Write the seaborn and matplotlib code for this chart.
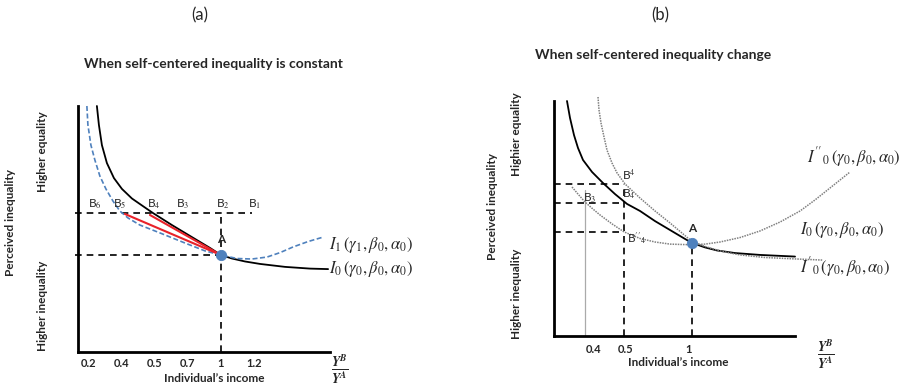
import matplotlib
matplotlib.use("Agg")
import matplotlib.pyplot as plt
import seaborn as sns

# ---------------- Panel (a): x = equally spaced income slots, y = perceived equality index (0..100)
a_tick_pos = [0, 1, 2, 3, 4, 5]
a_tick_labels = ["0.2", "0.4", "0.5", "0.7", "1", "1.2"]
a_I0_x = [0.242, 0.303, 0.394, 0.545, 0.758, 1.0, 1.303, 1.636, 1.939, 2.515, 3.121, 3.667,
          4.0, 4.333, 4.727, 5.182, 5.939, 6.697, 7.242]
a_I0_y = [100.0, 92.3, 84.1, 76.8, 70.7, 66.3, 62.4, 59.3, 56.5, 51.6, 46.7, 42.3,
          39.4, 38.0, 36.8, 35.8, 34.6, 33.9, 33.7]
a_I1_x = [-0.061, -0.030, 0.061, 0.182, 0.333, 0.515, 0.727, 0.939, 1.182, 1.545, 2.152,
          2.909, 3.515, 4.0, 4.485, 4.939, 5.394, 5.788, 6.182, 6.636, 7.091]
a_I1_y = [100.0, 92.3, 84.1, 78.0, 71.5, 66.3, 61.4, 57.3, 54.5, 51.6, 48.4,
          44.3, 41.1, 39.4, 38.0, 37.8, 38.6, 40.4, 42.7, 44.9, 46.7]
a_A = (4.0, 39.4)
a_B_level = 56.5
a_B_labels = ["B$_6$", "B$_5$", "B$_4$", "B$_3$", "B$_2$", "B$_1$"]
a_B_x = [0.18, 0.94, 1.97, 2.85, 4.06, 5.0]
a_red_start_x = [1.091, 1.848]
a_red_start_y = [56.1, 55.7]

# ---------------- Panel (b): x = schematic income position, y = perceived equality index (0..100)
b_tick_pos = [1.25, 2.25, 4.22]
b_tick_labels = ["0.4", "0.5", "1"]
b_I0_x = [0.406, 0.5, 0.625, 0.75, 0.906, 1.188, 1.531, 1.906, 2.281, 2.688, 3.156, 3.625,
          4.094, 4.313, 4.719, 5.094, 5.656, 6.438, 7.531]
b_I0_y = [100.0, 92.8, 85.5, 80.0, 74.9, 69.8, 65.1, 60.4, 56.2, 53.2, 48.9, 45.1,
          41.3, 39.6, 37.7, 36.4, 35.3, 34.5, 33.8]
b_Isteep_x = [1.375, 1.406, 1.469, 1.563, 1.656, 1.813, 1.969, 2.219, 2.688, 3.156, 3.625,
              4.0, 4.313, 4.719, 5.188, 5.813, 6.594, 7.531, 8.406]
b_Isteep_y = [101.7, 96.2, 90.6, 84.7, 79.1, 73.6, 69.4, 64.7, 58.7, 53.2, 48.1,
              43.8, 40.2, 38.1, 36.2, 34.5, 33.4, 32.8, 32.3]
b_Iu_x = [0.563, 0.75, 0.969, 1.219, 1.438, 1.813, 2.188, 2.688, 3.156, 3.625, 4.094, 4.344,
          4.719, 5.188, 5.813, 6.438, 7.063, 7.688, 8.156, 8.625, 8.938, 9.25]
b_Iu_y = [63.4, 60.4, 57.0, 54.0, 51.5, 47.7, 44.3, 41.5, 40.0, 39.1, 38.9, 38.9,
          39.1, 40.0, 41.9, 44.7, 48.5, 53.2, 57.9, 63.0, 66.4, 69.8]
b_A = (4.313, 39.6)
b_levels = [64.7, 56.6, 44.3]
b_x05 = 2.19
b_x04 = 0.969

sns.set_theme(style="white")
plt.rcParams['font.family'] = ['Lato', 'DejaVu Sans']
plt.rcParams['mathtext.fontset'] = 'stix'

W, H = 900, 388
fig = plt.figure(figsize=(9, 3.88), dpi=100, facecolor="white")


def fx(x):
    return x / W


def fy(y):
    return 1 - y / H


axa = fig.add_axes([fx(78), fy(352), (330 - 78) / W, (352 - 106) / H])
axb = fig.add_axes([fx(554), fy(336), (795 - 554) / W, (336 - 101) / H])

BLUE = "#4f81bd"
GRAY = "#808080"
for ax in (axa, axb):
    ax.set_facecolor("white")
    for s in ("top", "right"):
        ax.spines[s].set_visible(False)
    for s in ("left", "bottom"):
        ax.spines[s].set_color("black")
        ax.spines[s].set_linewidth(2.0)
    ax.set_yticks([])
    ax.set_ylim(0, 100)
    ax.tick_params(axis="x", length=0)

dash_kw = dict(color="black", lw=1.2, linestyle=(0, (4, 3)), clip_on=False)

# ---- panel (a)
axa.set_xlim(-0.33, 7.3)
axa.plot([-0.42, 4.94], [a_B_level, a_B_level], **dash_kw)
axa.plot([-0.42, a_A[0]], [a_A[1], a_A[1]], **dash_kw)
axa.plot([a_A[0], a_A[0]], [0, a_B_level], **dash_kw)
sns.lineplot(x=a_I0_x, y=a_I0_y, sort=False, estimator=None, ax=axa, color="black", lw=1.3)
sns.lineplot(x=a_I1_x, y=a_I1_y, sort=False, estimator=None, ax=axa, color=BLUE, lw=1.2,
             linestyle=(0, (3, 1.5)))
for sx, sy in zip(a_red_start_x, a_red_start_y):
    sns.lineplot(x=[sx, a_A[0]], y=[sy, a_A[1]], sort=False, estimator=None, ax=axa,
                 color="#e8222a", lw=1.5)
for ln in axa.get_lines():
    ln.set_clip_on(False)
sns.scatterplot(x=[a_A[0]], y=[a_A[1]], ax=axa, color=BLUE, s=55, edgecolor=BLUE, zorder=5)
for lab, x in zip(a_B_labels, a_B_x):
    axa.text(x, a_B_level + 0.8, lab, ha="center", va="bottom", fontsize=8.5)
axa.text(a_A[0], 43.5, "A", ha="center", va="bottom", fontsize=8.5, fontweight="bold")
axa.text(7.27, 43.5, r"$I_1\,(\gamma_1,\beta_0,\alpha_0)$", ha="left", va="center",
         fontsize=12, clip_on=False)
axa.text(7.27, 33.7, r"$I_0\,(\gamma_0,\beta_0,\alpha_0)$", ha="left", va="center",
         fontsize=12, clip_on=False)
axa.set_xticks(a_tick_pos, a_tick_labels, fontsize=8, fontweight="bold")
axa.tick_params(axis="x", pad=4)

# ---- panel (b)
axb.set_xlim(0, 7.53)
for lv in b_levels:
    axb.plot([0, b_x05], [lv, lv], **dash_kw)
axb.plot([b_x05, b_x05], [0, b_levels[0]], **dash_kw)
axb.plot([b_A[0], b_A[0]], [0, b_A[1]], **dash_kw)
axb.plot([b_x04, b_x04], [0, 62], color="#aaaaaa", lw=0.9)
sns.lineplot(x=b_I0_x, y=b_I0_y, sort=False, estimator=None, ax=axb, color="black", lw=1.3)
sns.lineplot(x=b_Isteep_x, y=b_Isteep_y, sort=False, estimator=None, ax=axb, color=GRAY,
             lw=1.1, linestyle=(0, (1, 0.7)))
sns.lineplot(x=b_Iu_x, y=b_Iu_y, sort=False, estimator=None, ax=axb, color=GRAY,
             lw=1.1, linestyle=(0, (1, 0.7)))
for ln in axb.get_lines():
    ln.set_clip_on(False)
sns.scatterplot(x=[b_A[0]], y=[b_A[1]], ax=axb, color=BLUE, s=55, edgecolor=BLUE, zorder=5)
axb.text(2.13, b_levels[0] + 0.8, "B$^4$", ha="left", va="bottom", fontsize=8.5)
axb.text(2.13, b_levels[1] + 1.0, "B$_4$", ha="left", va="bottom", fontsize=8.5)
axb.text(2.28, b_levels[2] - 2.8, "B$''_4$", ha="left", va="center", fontsize=8.5)
axb.text(0.91, 58.8, "B$_3$", ha="left", va="center", fontsize=8.5)
axb.text(b_A[0], 43.5, "A", ha="center", va="bottom", fontsize=8.5, fontweight="bold")
axb.text(7.9, 76.2, r"$I''_0\,(\gamma_0,\beta_0,\alpha_0)$", ha="left", va="center",
         fontsize=12, clip_on=False)
axb.text(7.69, 45.1, r"$I_0\,(\gamma_0,\beta_0,\alpha_0)$", ha="left", va="center",
         fontsize=12, clip_on=False)
axb.text(7.69, 29.4, r"$I'_0\,(\gamma_0,\beta_0,\alpha_0)$", ha="left", va="center",
         fontsize=12, clip_on=False)
axb.set_xticks(b_tick_pos, b_tick_labels, fontsize=8, fontweight="bold")
axb.tick_params(axis="x", pad=6)

# ---- figure texts
fig.text(fx(200), fy(15), "(a)", ha="center", va="center", fontsize=12)
fig.text(fx(660), fy(15), "(b)", ha="center", va="center", fontsize=12)
fig.text(fx(213), fy(64), "When self-centered inequality is constant", ha="center", va="center",
         fontsize=10, fontweight="bold")
fig.text(fx(653), fy(55), "When self-centered inequality change", ha="center", va="center",
         fontsize=10, fontweight="bold")
lab_kw = dict(rotation=90, ha="center", va="center", fontsize=8.5, fontweight="bold")
fig.text(fx(11), fy(222), "Perceived inequality", **lab_kw)
fig.text(fx(42), fy(152), "Higher equality", **lab_kw)
fig.text(fx(42), fy(306), "Higher inequality", **lab_kw)
fig.text(fx(493), fy(206), "Perceived inequality", **lab_kw)
fig.text(fx(517), fy(134), "Highier equality", **lab_kw)
fig.text(fx(517), fy(294), "Higher inequality", **lab_kw)
fig.text(fx(214), fy(379), "Individual\u2019s income", ha="center", va="center", fontsize=8.5,
         fontweight="bold")
fig.text(fx(678), fy(362), "Individual\u2019s income", ha="center", va="center", fontsize=8.5,
         fontweight="bold")
frac = r"$\frac{\mathbfit{Y}^{\mathbfit{B}}}{\mathbfit{Y}^{\mathbfit{A}}}$"
fig.text(fx(340), fy(370), frac, ha="center", va="center", fontsize=14)
fig.text(fx(826), fy(355), frac, ha="center", va="center", fontsize=14)

fig.savefig("out.png", dpi=100, facecolor="white")
